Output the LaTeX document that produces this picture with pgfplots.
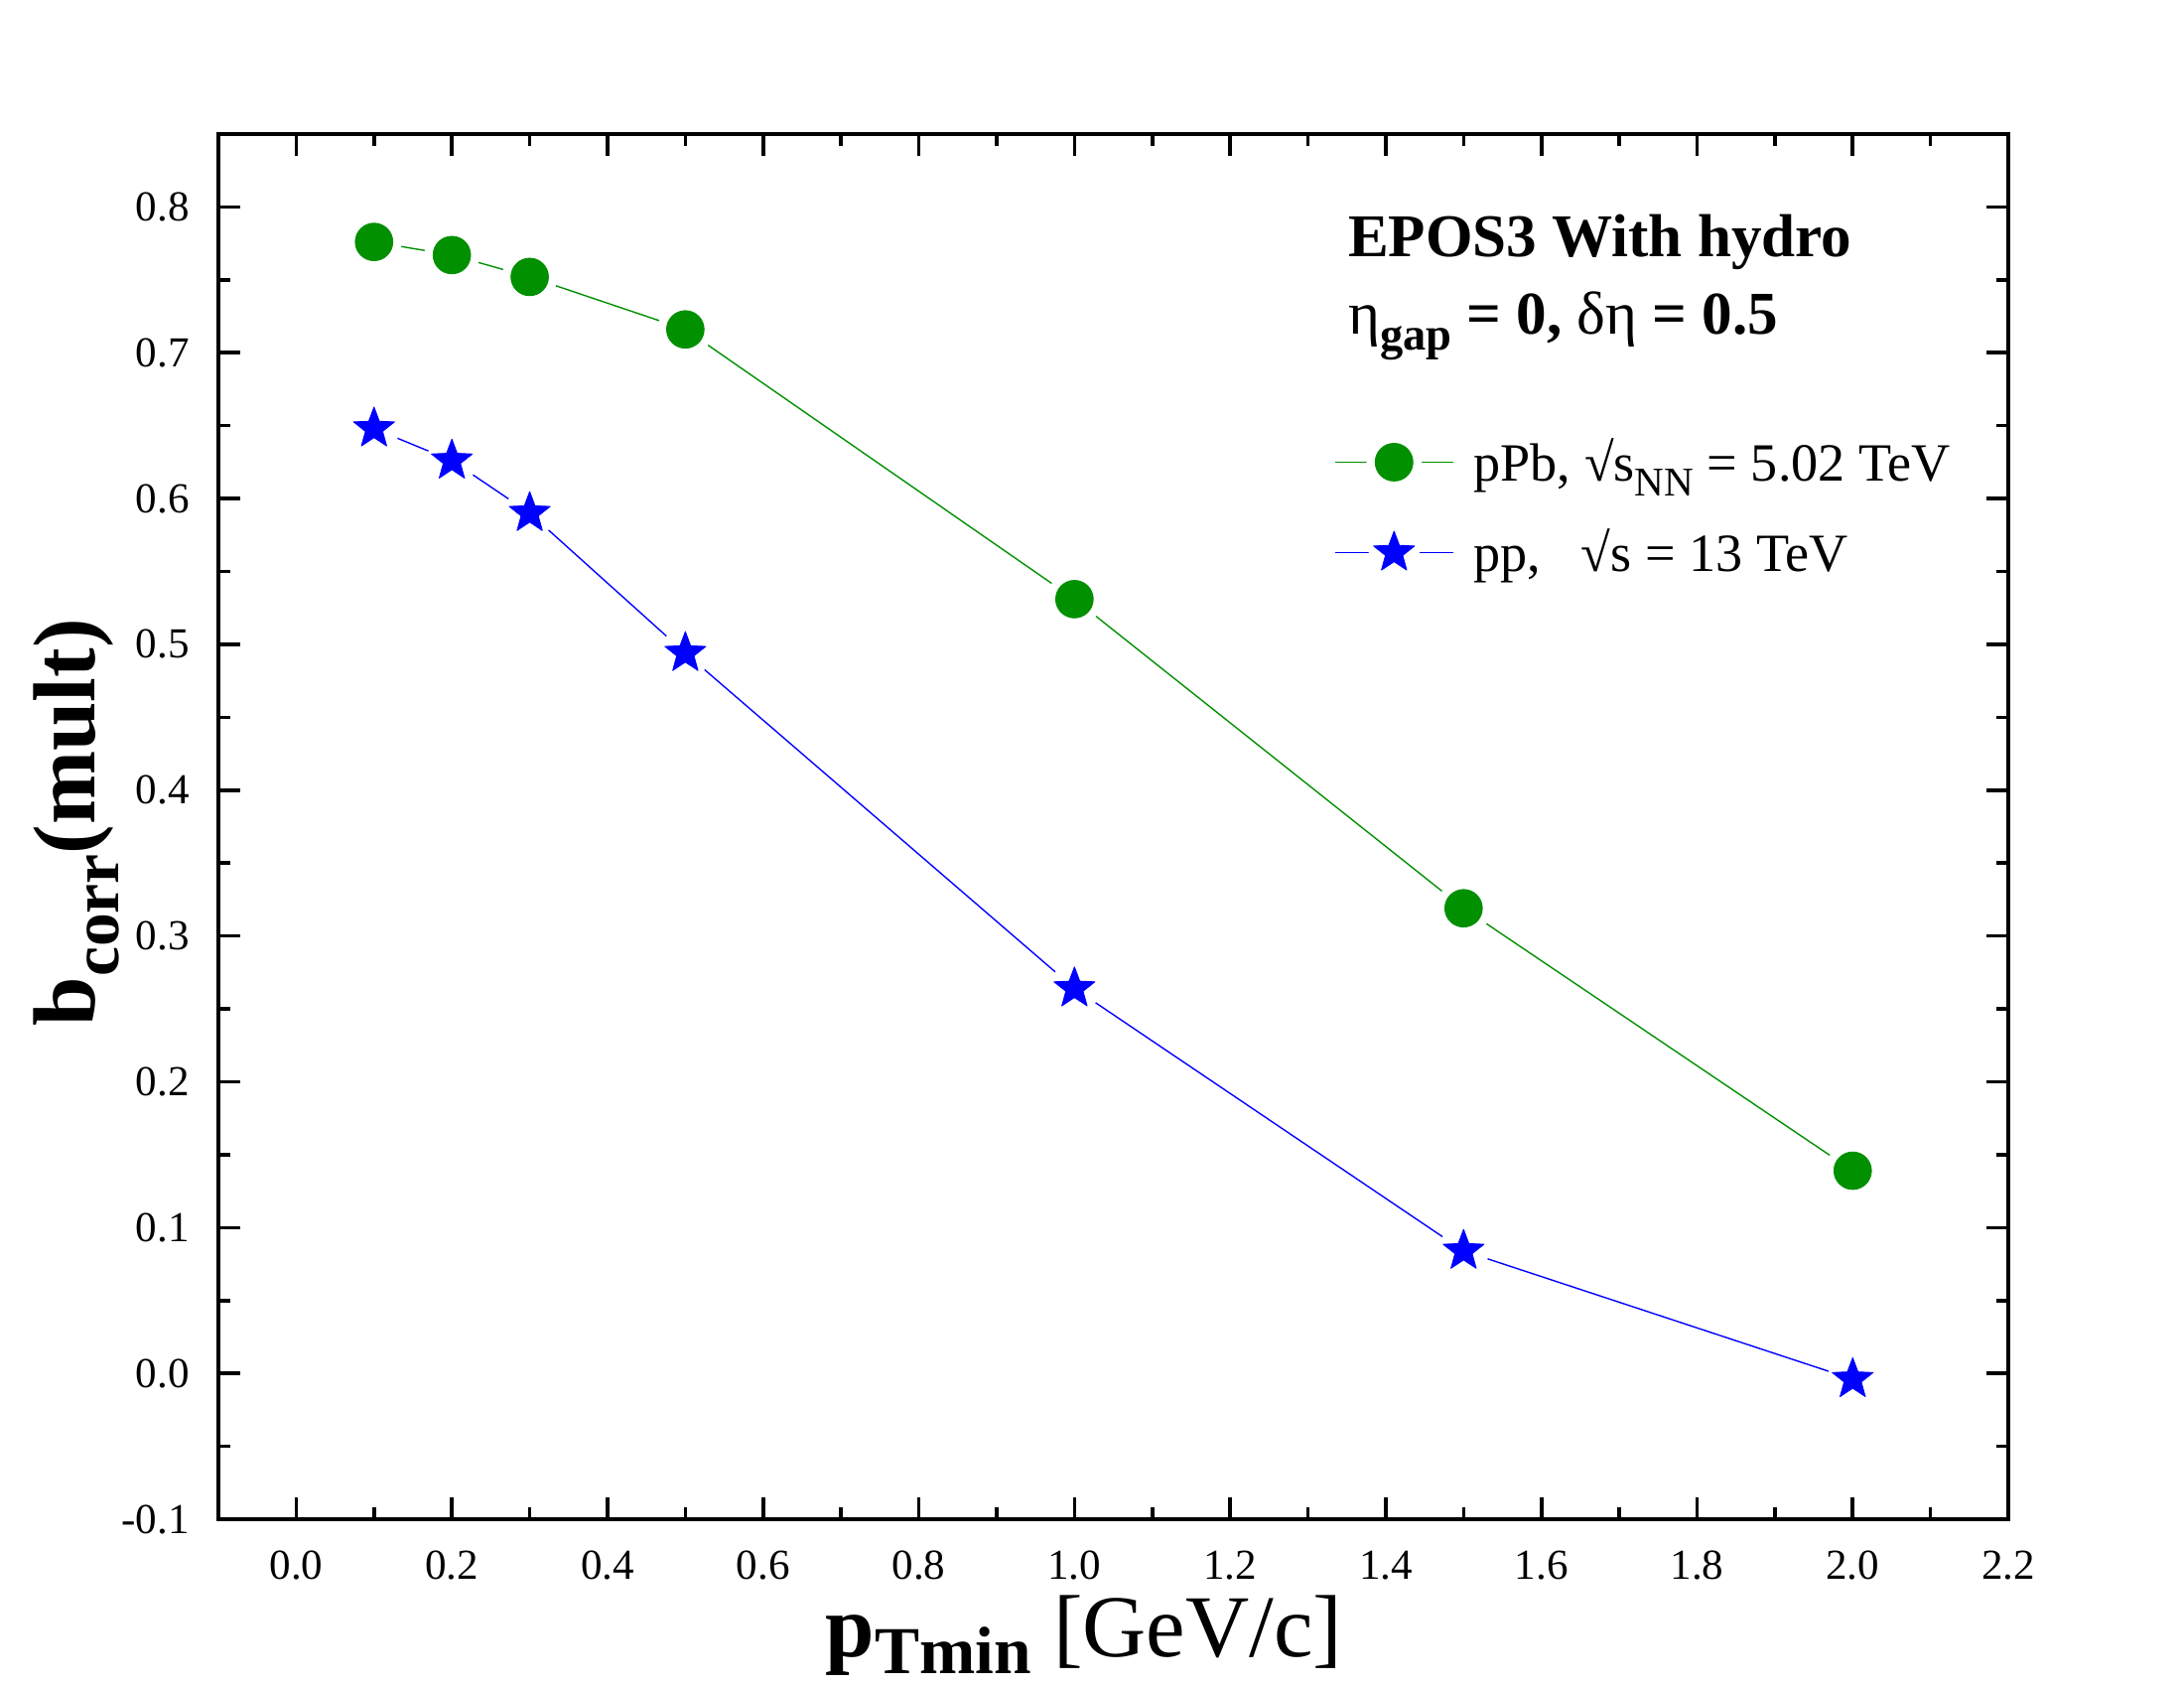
\documentclass[border=0pt]{standalone}
\usepackage{fontspec}
\setmainfont{Liberation Serif}
\usepackage{pgfplots}
\pgfplotsset{compat=1.18}
\definecolor{ogreen}{RGB}{0,144,0}
\definecolor{oblue}{RGB}{0,0,255}
\newcommand{\sub}[1]{\raisebox{-0.27em}{\scalebox{0.76}{#1}}}
\newcommand{\subx}[1]{\raisebox{-0.2em}{\scalebox{0.76}{#1}}}
\pgfdeclareplotmark{fstar}{%
  \pgfpathmoveto{\pgfqpointpolar{90}{\pgfplotmarksize}}%
  \pgfpathlineto{\pgfqpointpolar{126}{0.42\pgfplotmarksize}}%
  \pgfpathlineto{\pgfqpointpolar{162}{\pgfplotmarksize}}%
  \pgfpathlineto{\pgfqpointpolar{198}{0.42\pgfplotmarksize}}%
  \pgfpathlineto{\pgfqpointpolar{234}{\pgfplotmarksize}}%
  \pgfpathlineto{\pgfqpointpolar{270}{0.42\pgfplotmarksize}}%
  \pgfpathlineto{\pgfqpointpolar{306}{\pgfplotmarksize}}%
  \pgfpathlineto{\pgfqpointpolar{342}{0.42\pgfplotmarksize}}%
  \pgfpathlineto{\pgfqpointpolar{18}{\pgfplotmarksize}}%
  \pgfpathlineto{\pgfqpointpolar{54}{0.42\pgfplotmarksize}}%
  \pgfpathclose
  \pgfusepathqfillstroke
}
\begin{document}
\begin{tikzpicture}
\begin{axis}[
  scale only axis,
  width=649.1pt, height=502.2pt,
  xmin=-0.1, xmax=2.2, ymin=-0.1, ymax=0.85,
  xtick={0,0.2,...,2.21}, ytick={-0.1,0,0.1,0.2,0.3,0.4,0.5,0.6,0.7,0.8},
  minor x tick num=1, minor y tick num=1,
  tick align=inside, tick pos=both,
  major tick length=8pt, minor tick length=4.3pt,
  axis line style={line width=1.5pt},
  every tick/.style={line width=1.3pt, black},
  /pgf/number format/assume math mode=true,
  /pgf/number format/.cd, fixed, fixed zerofill, precision=1, /pgfplots/.cd,
  ticklabel style={font=\fontsize{15.5}{18}\selectfont},
  yticklabel style={xshift=-7pt},
  xticklabel style={yshift=-8pt},
  xlabel={\textbf{p\subx{Tmin}} [GeV/c]},
  ylabel={\textbf{b\sub{corr}(mult)}},
  xlabel style={font=\fontsize{32}{36}\selectfont, at={(axis description cs:0.4836,-0.099)}, anchor=base},
  ylabel style={font=\fontsize{32}{36}\selectfont, at={(axis description cs:-0.0688,0.503)}, anchor=base, rotate=0},
  legend style={at={(rel axis cs:0.623,0.783)}, anchor=north west, draw=none, fill=none,
    inner sep=0pt, row sep=14pt, font=\fontsize{19.5}{23}\selectfont,
    nodes={inner sep=0pt},
    /tikz/every odd column/.append style={column sep=7.2pt}},
  legend cell align=left,
  clip=false,
]
\addlegendimage{legend image code/.code={
  \draw[ogreen, line width=0.5pt] (0pt,0pt) -- (43pt,0pt);
  \draw[white, mark=*, mark size=9.8pt, mark options={fill=white, draw=white}, only marks] plot coordinates {(21.5pt,0pt)};
  \draw[ogreen, mark=*, mark size=6.8pt, mark options={fill=ogreen, draw=ogreen}, only marks] plot coordinates {(21.5pt,0pt)};
}}
\addlegendentry{pPb, √s\sub{NN} = 5.02 TeV}
\addlegendimage{legend image code/.code={
  \draw[oblue, line width=0.5pt] (0pt,0pt) -- (43pt,0pt);
  \draw[white, mark=*, mark size=9pt, mark options={fill=white, draw=white}, only marks] plot coordinates {(21.5pt,0pt)};
  \draw[oblue, mark=fstar, mark size=7.8pt, mark options={fill=oblue, draw=oblue, line width=0.3pt, line join=round}, only marks] plot coordinates {(21.5pt,0pt)};
}}
\addlegendentry{pp,\ \ \ √s = 13 TeV}
% green: line, white halo, marks
\addplot[ogreen, line width=0.5pt, forget plot] coordinates {
(0.1,0.776) (0.2,0.767) (0.3,0.752) (0.5,0.716) (1.0,0.531) (1.5,0.319) (2.0,0.139)};
\addplot[only marks, mark=*, mark size=9.8pt, white, mark options={draw=white, fill=white}, forget plot] coordinates {
(0.1,0.776) (0.2,0.767) (0.3,0.752) (0.5,0.716) (1.0,0.531) (1.5,0.319) (2.0,0.139)};
\addplot[only marks, mark=*, mark size=6.8pt, mark options={fill=ogreen, draw=ogreen, line width=0.3pt}, forget plot] coordinates {
(0.1,0.776) (0.2,0.767) (0.3,0.752) (0.5,0.716) (1.0,0.531) (1.5,0.319) (2.0,0.139)};
% blue
\addplot[oblue, line width=0.5pt, forget plot] coordinates {
(0.1,0.648) (0.2,0.626) (0.3,0.590) (0.5,0.494) (1.0,0.264) (1.5,0.084) (2.0,-0.004)};
\addplot[only marks, mark=*, mark size=9pt, white, mark options={draw=white, fill=white}, forget plot] coordinates {
(0.1,0.648) (0.2,0.626) (0.3,0.590) (0.5,0.494) (1.0,0.264) (1.5,0.084) (2.0,-0.004)};
\addplot[only marks, mark=fstar, mark size=7.8pt, mark options={fill=oblue, draw=oblue, line width=0.3pt, line join=round}, forget plot] coordinates {
(0.1,0.648) (0.2,0.626) (0.3,0.590) (0.5,0.494) (1.0,0.264) (1.5,0.084) (2.0,-0.004)};
\node[anchor=base west, font=\fontsize{22}{26}\selectfont\bfseries, inner sep=0pt] at (axis cs:1.351,0.766) {EPOS3 With hydro};
\node[anchor=base west, font=\fontsize{22}{26}\selectfont\bfseries, inner sep=0pt] at (axis cs:1.351,0.713) {{\mdseries η}\sub{gap} = 0, {\mdseries δη} = 0.5};
\end{axis}
\pgfresetboundingbox
\path ([xshift=-79.2pt,yshift=-61.2pt]current axis.south west) rectangle ([xshift=63.7pt,yshift=48.6pt]current axis.north east);
\end{tikzpicture}
\end{document}
